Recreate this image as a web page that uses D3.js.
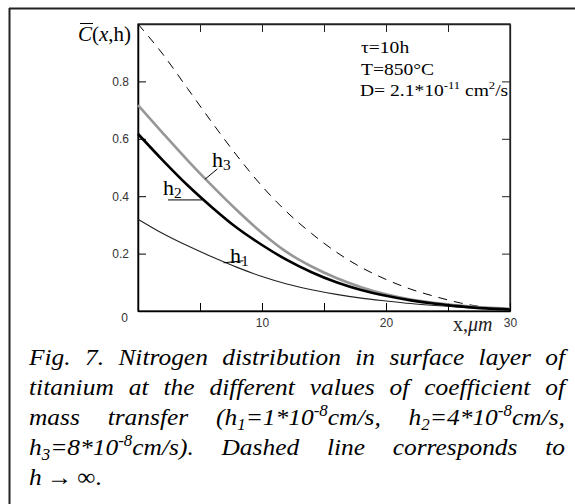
<!DOCTYPE html>
<html><head><meta charset="utf-8">
<script src="https://cdn.jsdelivr.net/npm/d3@7"></script>
<style>
html,body{margin:0;padding:0;background:#fff;}
svg{display:block;}
</style></head>
<body>
<script>
// ---- data ----
const xVals = [0,2,4,6,8,10,12,14,16,18,20,22,24,26,28,30];
const hInf  = [1.00,0.895,0.775,0.655,0.54,0.435,0.345,0.27,0.205,0.152,0.11,0.076,0.05,0.028,0.013,0.005];
const h3    = [0.717,0.62,0.525,0.435,0.35,0.272,0.205,0.155,0.115,0.083,0.058,0.04,0.028,0.019,0.012,0.008];
const h2    = [0.617,0.525,0.438,0.36,0.289,0.23,0.178,0.135,0.10,0.073,0.053,0.037,0.025,0.016,0.009,0.005];
const h1    = [0.32,0.27,0.227,0.188,0.152,0.12,0.094,0.074,0.058,0.045,0.035,0.026,0.019,0.013,0.009,0.006];
const yTickVals = [0,0.2,0.4,0.6,0.8];
const yTickLabels = ["0","0.2","0.4","0.6","0.8"];
const xTickVals = [0,5,10,15,20,25,30];
const xTickLabels = {10:"10",20:"20",30:"30"};

const W = 575, H = 504;
const svg = d3.select("body").append("svg").attr("width", W).attr("height", H);

// outer frame (top and left edges)
svg.append("line").attr("x1",9).attr("x2",W).attr("y1",8.5).attr("y2",8.5).attr("stroke","#222").attr("stroke-width",2);
svg.append("line").attr("x1",9.5).attr("x2",9.5).attr("y1",8).attr("y2",H).attr("stroke","#222").attr("stroke-width",2);

const x = d3.scaleLinear().domain([0,30]).range([138,510]);
const y = d3.scaleLinear().domain([0,1]).range([311,24]);

// plot box
svg.append("rect").attr("x",x(0)).attr("y",y(1)).attr("width",x(30)-x(0)).attr("height",y(0)-y(1))
  .attr("fill","none").attr("stroke","#222").attr("stroke-width",1.3);

const tickFont = "'Liberation Sans', Arial, sans-serif";
const serif = "'Liberation Serif','Times New Roman',serif";

// left axis (ticks inward)
const gl = svg.append("g").attr("transform",`translate(${x(0)},0)`)
  .call(d3.axisLeft(y).tickValues(yTickVals).tickSizeInner(-8).tickSizeOuter(0).tickPadding(9)
        .tickFormat((d,i)=>yTickLabels[i]));
gl.select(".domain").attr("stroke","#000").attr("stroke-width",1.5);
gl.selectAll(".tick line").attr("stroke","#000");
gl.selectAll(".tick text").attr("font-family",tickFont).attr("font-size",12).attr("fill","#333");
gl.selectAll(".tick text").filter(d=>d===0).attr("dy","0.85em").attr("x",-10);

// right axis ticks
const gr = svg.append("g").attr("transform",`translate(${x(30)},0)`)
  .call(d3.axisRight(y).tickValues([0.2,0.4,0.6,0.8]).tickSizeInner(-8).tickSizeOuter(0).tickFormat(""));
gr.select(".domain").attr("stroke","#222").attr("stroke-width",1.3);
gr.selectAll(".tick line").attr("stroke","#222");

// bottom axis
const gb = svg.append("g").attr("transform",`translate(0,${y(0)})`)
  .call(d3.axisBottom(x).tickValues(xTickVals).tickSizeInner(-8).tickSizeOuter(0).tickPadding(7)
        .tickFormat(d=>xTickLabels[d]||""));
gb.select(".domain").attr("stroke","#000").attr("stroke-width",1.5);
gb.selectAll(".tick line").attr("stroke","#000");
gb.selectAll(".tick text").attr("font-family",tickFont).attr("font-size",12).attr("fill","#333");

// top axis ticks
const gt = svg.append("g").attr("transform",`translate(0,${y(1)})`)
  .call(d3.axisTop(x).tickValues([5,10,15,20,25]).tickSizeInner(-8).tickSizeOuter(0).tickFormat(""));
gt.select(".domain").attr("stroke","#222").attr("stroke-width",1.3);
gt.selectAll(".tick line").attr("stroke","#222");

// curves
const line = d3.line().x((d,i)=>x(xVals[i])).y(d=>y(d)).curve(d3.curveMonotoneX);
svg.append("path").datum(hInf).attr("d",line).attr("fill","none").attr("stroke","#000").attr("stroke-width",1).attr("stroke-dasharray","9,7");
svg.append("path").datum(h1).attr("d",line).attr("fill","none").attr("stroke","#222").attr("stroke-width",1.1);
svg.append("path").datum(h3).attr("d",line).attr("fill","none").attr("stroke","#979797").attr("stroke-width",2.6);
svg.append("path").datum(h2).attr("d",line).attr("fill","none").attr("stroke","#000").attr("stroke-width",2.6);

// horizontally stretched text helper
function stext(parent, px, py, sx){
  return parent.append("text").attr("transform",`translate(${px},${py}) scale(${sx},1)`);
}

// curve labels
function hLabel(lx, ly, sub){
  const t = stext(svg, x(lx), y(ly), 1.1).attr("font-family",serif).attr("font-size",20).attr("fill","#000");
  t.append("tspan").text("h");
  t.append("tspan").text(sub).attr("font-size",14).attr("dy",3);
}
hLabel(5.97,0.502,"3");
hLabel(2.02,0.404,"2");
hLabel(7.42,0.167,"1");
function leader(x1,y1,x2,y2){
  svg.append("line").attr("x1",x(x1)).attr("y1",y(y1)).attr("x2",x(x2)).attr("y2",y(y2)).attr("stroke","#000").attr("stroke-width",1);
}
leader(5.4,0.459,6.4,0.495);
leader(2.42,0.387,5.16,0.387);
leader(6.9,0.168,8.5,0.175);

// y axis title  C̄(x,h)
const yt = svg.append("text").attr("x",78).attr("y",41).attr("font-family",serif).attr("font-size",21).attr("fill","#000");
const cSpan = yt.append("tspan").text("C").attr("font-style","italic");
yt.append("tspan").text("(");
yt.append("tspan").text("x").attr("font-style","italic");
yt.append("tspan").text(",h)");
const cw = cSpan.node().getComputedTextLength();
svg.append("line").attr("x1",80).attr("x2",78+cw+1).attr("y1",23.5).attr("y2",23.5).attr("stroke","#000").attr("stroke-width",1);

// x axis title
const xt = svg.append("text").attr("x",453).attr("y",331).attr("font-family",serif).attr("font-size",20).attr("fill","#222");
xt.append("tspan").text("x,");
xt.append("tspan").text("μm").attr("font-style","italic");

// parameters
const ann = svg.append("g").attr("font-family",serif).attr("font-size",17).attr("fill","#000");
stext(ann,361,53,1.15).text("τ=10h");
stext(ann,361,75,1.15).text("T=850°C");
const dt = stext(ann,360,96,1.15);
dt.append("tspan").text("D= 2.1*10");
dt.append("tspan").text("-11").attr("font-size",11).attr("dy",-7);
dt.append("tspan").text(" cm").attr("dy",7);
dt.append("tspan").text("2").attr("font-size",11).attr("dy",-7);
dt.append("tspan").text("/s").attr("dy",7);

// caption (justified)
const capLines = [
  [[["Fig."]],[["7."]],[["Nitrogen"]],[["distribution"]],[["in"]],[["surface"]],[["layer"]],[["of"]]],
  [[["titanium"]],[["at"]],[["the"]],[["different"]],[["values"]],[["of"]],[["coefficient"]],[["of"]]],
  [[["mass"]],[["transfer"]],[["(h"],["1","sub"],["=1*10"],["-8","sup"],["cm/s,"]],[["h"],["2","sub"],["=4*10"],["-8","sup"],["cm/s,"]]],
  [[["h"],["3","sub"],["=8*10"],["-8","sup"],["cm/s)."]],[["Dashed"]],[["line"]],[["corresponds"]],[["to"]]],
  [[["h"]],[["→","up"]],[["∞.","up"]]]
];
const capBase = [365,395,425,455,485];
const capX0 = 29, capX1 = 565, capSX = 1.06;
const cap = svg.append("g").attr("font-family",serif).attr("font-size",24).attr("font-style","italic").attr("fill","#000");
capLines.forEach((words, li) => {
  const els = words.map(w => {
    const t = cap.append("text");
    let off = 0;
    w.forEach(seg => {
      const s = t.append("tspan").text(seg[0]);
      let target = 0;
      if (seg[1]==="sub"){ target = 5; s.attr("font-size",16); }
      else if (seg[1]==="sup"){ target = -9; s.attr("font-size",16); }
      else if (seg[1]==="up"){ s.attr("font-style","normal"); }
      if (target!==off){ s.attr("dy", target-off); off = target; }
    });
    return t;
  });
  const widths = els.map(e=>e.node().getComputedTextLength()*capSX);
  const total = d3.sum(widths);
  const justify = li < capLines.length-1;
  const gap = justify ? (capX1-capX0-total)/(els.length-1) : 5;
  let cx = capX0;
  els.forEach((e,i)=>{ e.attr("transform",`translate(${cx},${capBase[li]}) scale(${capSX},1)`); cx += widths[i]+gap; });
});
</script>
</body></html>
